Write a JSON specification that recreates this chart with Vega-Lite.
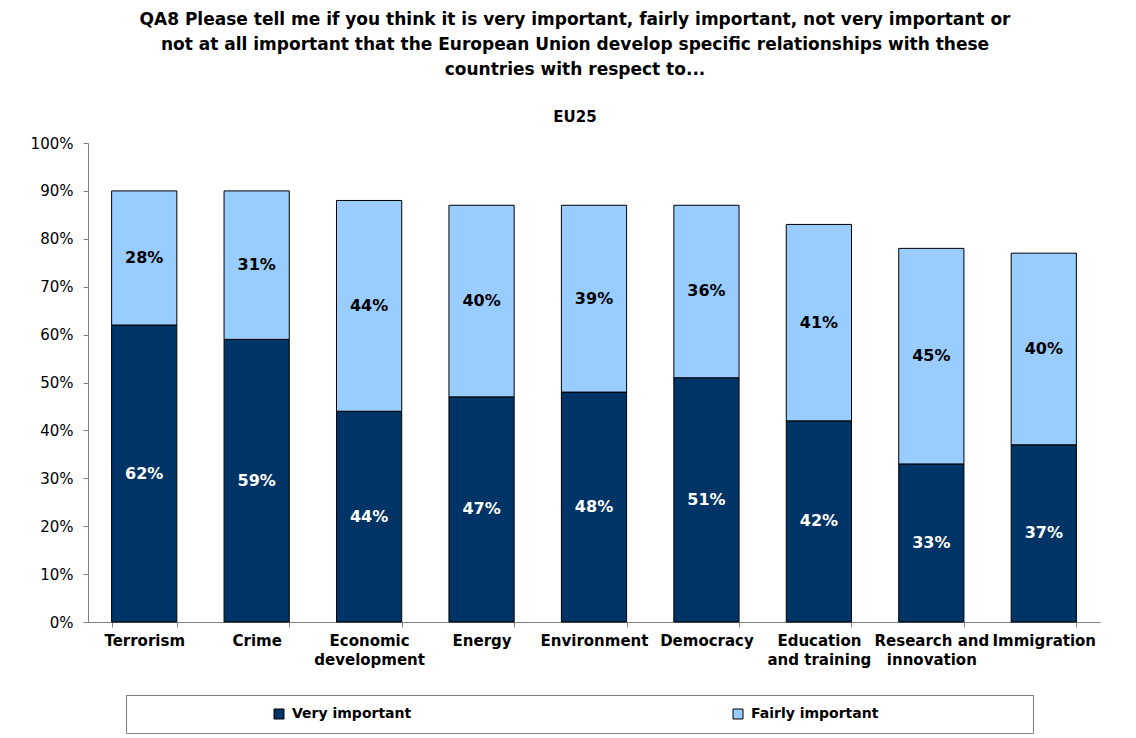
{
  "$schema": "https://vega.github.io/schema/vega-lite/v6.json",
  "autosize": "none",
  "width": 1012,
  "height": 479,
  "padding": {"left": 88, "top": 143, "right": 36, "bottom": 116},
  "background": "white",
  "config": {
    "view": {"stroke": null},
    "font": "DejaVu Sans"
  },
  "title": {
    "text": ["QA8 Please tell me if you think it is very important, fairly important, not very important or", "not at all important that the European Union develop specific relationships with these", "countries with respect to..."],
    "subtitle": "EU25",
    "font": "DejaVu Sans",
    "fontSize": 17,
    "fontWeight": "bold",
    "lineHeight": 25,
    "subtitleFont": "DejaVu Sans",
    "subtitleFontSize": 15,
    "subtitleFontWeight": "bold",
    "subtitleColor": "black",
    "subtitlePadding": 31,
    "color": "black",
    "anchor": "middle",
    "dx": -19,
    "offset": 10
  },
  "data": {
    "values": [
      {"topic": "Terrorism", "series": "Very important", "value": 0.62},
      {"topic": "Terrorism", "series": "Fairly important", "value": 0.28},
      {"topic": "Crime", "series": "Very important", "value": 0.59},
      {"topic": "Crime", "series": "Fairly important", "value": 0.31},
      {"topic": "Economic development", "series": "Very important", "value": 0.44},
      {"topic": "Economic development", "series": "Fairly important", "value": 0.44},
      {"topic": "Energy", "series": "Very important", "value": 0.47},
      {"topic": "Energy", "series": "Fairly important", "value": 0.40},
      {"topic": "Environment", "series": "Very important", "value": 0.48},
      {"topic": "Environment", "series": "Fairly important", "value": 0.39},
      {"topic": "Democracy", "series": "Very important", "value": 0.51},
      {"topic": "Democracy", "series": "Fairly important", "value": 0.36},
      {"topic": "Education and training", "series": "Very important", "value": 0.42},
      {"topic": "Education and training", "series": "Fairly important", "value": 0.41},
      {"topic": "Research and innovation", "series": "Very important", "value": 0.33},
      {"topic": "Research and innovation", "series": "Fairly important", "value": 0.45},
      {"topic": "Immigration", "series": "Very important", "value": 0.37},
      {"topic": "Immigration", "series": "Fairly important", "value": 0.40}
    ]
  },
  "encoding": {
    "x": {
      "field": "topic",
      "type": "nominal",
      "sort": null,
      "scale": {"paddingInner": 0.42, "paddingOuter": 0.21},
      "axis": {
        "title": null,
        "labelAngle": 0,
        "labelFont": "DejaVu Sans",
        "labelFontSize": 15,
        "labelFontWeight": "bold",
        "labelColor": "black",
        "labelPadding": 6,
        "labelLimit": 200,
        "labelLineHeight": 19,
        "labelBaseline": "top",
        "tickBand": "extent",
        "tickSize": 5,
        "tickColor": "#808080",
        "domainColor": "#808080",
        "labelExpr": "datum.value == 'Economic development' ? ['Economic', 'development'] : datum.value == 'Education and training' ? ['Education', 'and training'] : datum.value == 'Research and innovation' ? ['Research and', 'innovation'] : datum.value"
      }
    },
    "y": {
      "field": "value",
      "type": "quantitative",
      "stack": "zero",
      "scale": {"domain": [0, 1]},
      "axis": {
        "title": null,
        "values": [0, 0.1, 0.2, 0.3, 0.4, 0.5, 0.6, 0.7, 0.8, 0.9, 1],
        "format": ".0%",
        "grid": false,
        "labelFont": "DejaVu Sans",
        "labelFontSize": 15,
        "labelColor": "black",
        "labelPadding": 10,
        "tickSize": 5,
        "tickColor": "#808080",
        "domainColor": "#808080"
      }
    },
    "order": {"field": "series", "sort": "descending"}
  },
  "layer": [
    {
      "mark": {"type": "bar", "stroke": "black", "strokeWidth": 1},
      "encoding": {
        "color": {
          "field": "series",
          "type": "nominal",
          "scale": {"domain": ["Very important", "Fairly important"], "range": ["#003366", "#99CCFF"]},
          "legend": {
            "title": null,
            "orient": "none",
            "direction": "horizontal",
            "legendX": 38,
            "legendY": 552,
            "padding": 12,
            "strokeColor": "#808080",
            "fillColor": "white",
            "symbolType": "square",
            "symbolSize": 100,
            "symbolStrokeColor": "black",
            "symbolStrokeWidth": 1,
            "symbolOffset": 134,
            "columnPadding": 185,
            "labelFont": "DejaVu Sans",
            "labelFontSize": 14,
            "labelFontWeight": "bold",
            "labelColor": "black",
            "labelOffset": 6,
            "labelLimit": 400,
            "labelExpr": "datum.label == 'Fairly important' ? datum.label + '\u2800\u2800\u2800\u2800\u2800\u2800\u2800\u2800\u2800\u2800\u2800\u2800\u2800' : datum.label"
          }
        }
      }
    },
    {
      "mark": {"type": "text", "font": "DejaVu Sans", "fontSize": 16, "fontWeight": "bold"},
      "encoding": {
        "y": {"field": "value", "type": "quantitative", "stack": "zero", "bandPosition": 0.5},
        "text": {"field": "value", "type": "quantitative", "format": ".0%"},
        "detail": {"field": "series"},
        "color": {
          "condition": {"test": "datum.series == 'Very important'", "value": "white"},
          "value": "black"
        }
      }
    }
  ]
}
